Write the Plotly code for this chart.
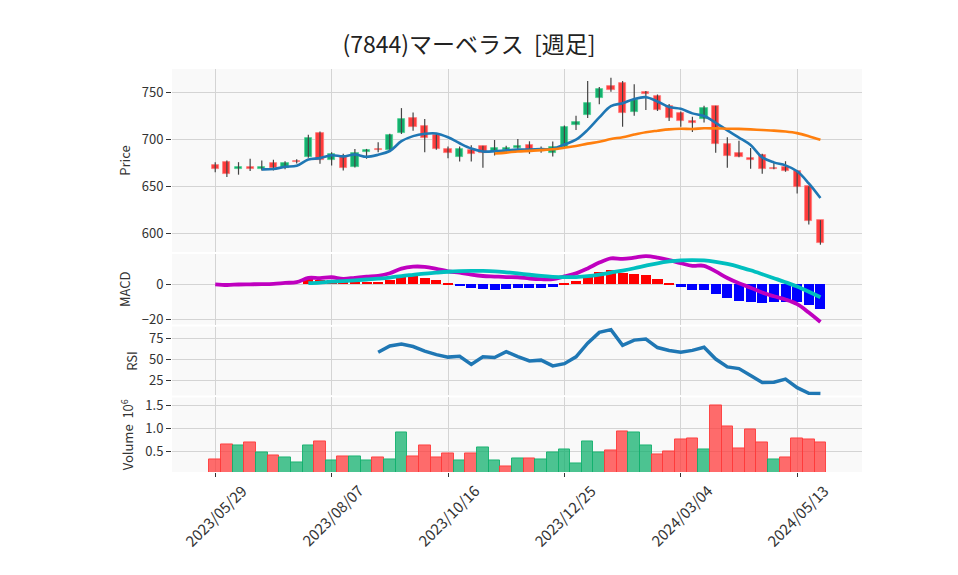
import pandas as pd
import plotly.graph_objects as go
from plotly.subplots import make_subplots

# ---------------------------------------------------------------------------
# weekly data: prices in yen, volume in millions of shares
# ---------------------------------------------------------------------------
dates = pd.date_range("2023-05-29", periods=53, freq="7D")
opens = [671.9, 675.4, 667.7, 669.8, 667.7, 675.0, 669.1, 676.9, 681.4, 706.8,
         677.2, 681.4, 670.8, 686.1, 689.9, 688.5, 706.0, 722.6, 713.8, 704.3,
         689.5, 680.7, 688.8, 692.7, 687.0, 688.0, 690.6, 693.7, 689.0, 684.9,
         692.0, 714.9, 725.5, 744.1, 756.5, 759.3, 729.3, 750.1, 745.9, 735.0,
         727.2, 719.5, 720.8, 735.3, 694.8, 685.6, 679.6, 683.2, 669.4, 670.8,
         665.5, 649.7, 613.7]
highs = [675.4, 677.2, 675.4, 679.0, 677.2, 678.0, 676.5, 678.5, 704.6, 708.1,
         686.0, 684.3, 689.5, 689.5, 696.5, 705.6, 732.9, 728.2, 721.2, 705.6,
         692.0, 692.0, 693.3, 693.0, 699.0, 693.0, 700.0, 697.6, 692.0, 697.3,
         714.5, 724.7, 761.7, 755.4, 765.2, 761.7, 758.2, 751.0, 747.4, 737.2,
         729.3, 723.7, 735.3, 735.3, 701.8, 698.3, 690.6, 684.3, 675.4, 676.4,
         666.6, 649.7, 613.7]
lows = [664.8, 659.5, 662.1, 665.9, 666.6, 666.6, 668.0, 674.0, 680.0, 673.7,
        671.9, 666.6, 669.8, 679.0, 685.9, 687.0, 705.4, 708.9, 686.0, 688.5,
        679.6, 676.2, 676.2, 669.5, 682.5, 685.0, 687.7, 684.3, 685.5, 681.4,
        691.2, 709.6, 722.3, 737.1, 750.4, 713.1, 724.7, 730.8, 729.8, 719.2,
        713.1, 707.5, 717.7, 685.3, 669.5, 680.7, 668.4, 663.1, 667.9, 665.2,
        642.0, 609.2, 587.6]
closes = [667.7, 662.7, 670.8, 667.7, 669.8, 669.5, 674.8, 675.8, 701.2, 677.2,
          684.3, 669.5, 685.6, 688.8, 688.1, 704.6, 721.6, 712.4, 701.2, 689.5,
          684.9, 689.5, 684.5, 685.5, 690.6, 690.0, 692.7, 685.9, 687.2, 691.9,
          713.1, 718.4, 738.5, 753.0, 752.2, 728.2, 741.3, 747.7, 730.8, 722.1,
          718.7, 717.3, 733.5, 694.8, 681.7, 680.7, 677.5, 667.7, 668.3, 665.9,
          649.0, 613.0, 589.8]
volumes = [0.326, 0.652, 0.63, 0.69, 0.478, 0.413, 0.37, 0.26, 0.63, 0.717,
           0.30, 0.39, 0.39, 0.30, 0.37, 0.33, 0.913, 0.39, 0.63, 0.37,
           0.457, 0.30, 0.457, 0.587, 0.30, 0.17, 0.35, 0.35, 0.33, 0.48,
           0.54, 0.24, 0.72, 0.48, 0.52, 0.935, 0.913, 0.63, 0.435, 0.50,
           0.76, 0.78, 0.543, 1.5, 1.04, 0.565, 0.978, 0.696, 0.326, 0.37,
           0.78, 0.76, 0.696]

# indicator lines (None where the chart draws nothing)
ma5 = [None] * 4 + [
    667.7, 668.1, 670.5, 671.5, 678.2, 679.7, 682.7, 681.6, 683.6, 681.1,
    683.3, 687.3, 697.7, 703.1, 705.6, 705.9, 701.9, 695.5, 689.9, 686.8,
    687.0, 688.0, 688.7, 688.9, 689.3, 689.5, 694.2, 699.3, 709.8, 723.0,
    735.0, 738.1, 742.6, 744.5, 740.0, 734.0, 732.1, 727.3, 724.5, 717.3,
    709.2, 701.6, 693.6, 680.5, 675.2, 672.0, 665.7, 652.8, 637.2]
ma25 = [None] * 24 + [
    684.7, 685.6, 686.8, 687.4, 688.2, 689.1, 690.8, 692.6, 695.1, 697.1,
    700.1, 701.9, 704.8, 707.3, 708.9, 710.3, 710.9, 710.7, 711.5, 711.3,
    711.0, 710.8, 710.3, 709.6, 709.0, 708.0, 706.3, 703.1, 699.3]
macd = [0.0, -0.4, -0.1, 0.0, 0.1, 0.3, 0.8, 1.2, 3.6, 3.5,
        4.0, 3.1, 3.7, 4.3, 4.8, 6.3, 8.9, 10.0, 9.9, 8.8,
        7.4, 6.6, 5.5, 4.7, 4.4, 4.1, 4.0, 3.3, 2.9, 2.9,
        4.5, 6.2, 9.0, 12.3, 14.7, 14.4, 15.1, 16.0, 15.2, 13.7,
        12.0, 10.5, 10.5, 7.3, 3.6, 0.6, -1.9, -4.7, -6.8, -8.6,
        -11.2, -16.0, -21.4]
signal = [None] * 8 + [
    0.61, 1.00, 1.49, 1.84, 2.26, 2.72, 3.22, 3.83, 4.69, 5.40,
    6.11, 6.64, 7.12, 7.44, 7.58, 7.57, 7.36, 6.82, 6.16, 5.42,
    4.77, 4.27, 4.03, 4.11, 4.59, 5.47, 6.64, 7.80, 9.11, 10.57,
    11.93, 12.96, 13.60, 13.77, 13.57, 12.74, 11.54, 9.93, 7.94, 5.73,
    3.46, 1.17, -1.24, -4.19, -7.38]
hist = [None] * 8 + [
    3.0, 2.5, 2.5, 1.3, 1.4, 1.6, 1.6, 2.5, 4.2, 4.6,
    3.8, 2.2, 0.3, -0.8, -2.1, -2.9, -3.0, -2.7, -2.2, -2.1,
    -1.9, -1.4, 0.5, 2.1, 4.4, 6.8, 8.1, 6.6, 6.0, 5.4,
    3.3, 0.7, -1.6, -3.3, -3.1, -5.4, -7.9, -9.3, -9.8, -10.4,
    -10.3, -9.8, -10.0, -11.8, -14.0]
rsi = [None] * 14 + [
    58.8, 66.4, 68.6, 65.7, 60.3, 56.1, 53.1, 54.1, 44.3, 53.4,
    52.6, 59.6, 53.8, 48.5, 49.5, 42.6, 45.3, 53.5, 69.7, 82.6,
    85.9, 67.1, 73.4, 74.6, 64.5, 61.0, 58.8, 61.1, 64.8, 50.8,
    41.4, 39.4, 31.1, 22.8, 23.2, 26.9, 16.7, 10.0, 9.6]

tick_dates = ["2023-05-29", "2023-08-07", "2023-10-16", "2023-12-25",
              "2024-03-04", "2024-05-13"]
tick_text = ["2023/05/29", "2023/08/07", "2023/10/16", "2023/12/25",
             "2024/03/04", "2024/05/13"]

WEEK_MS = 7 * 86400000
GREEN = "#12b06e"
RED = "#ff3b3b"
FONT = "Noto Sans CJK JP, Noto Sans, sans-serif"

fig = make_subplots(rows=4, cols=1, shared_xaxes=True, vertical_spacing=0.004)

# --- price panel: wicks as line segments, bodies as floating bars ---
up = [cl >= op for op, cl in zip(opens, closes)]
wx, wy = [], []
for dt, lo, hi in zip(dates, lows, highs):
    wx += [dt, dt, None]
    wy += [lo, hi, None]
fig.add_trace(go.Scatter(x=wx, y=wy, mode="lines", line=dict(color="#444", width=1.2),
                         hoverinfo="skip"), row=1, col=1)
fig.add_trace(go.Bar(x=dates, y=[abs(cl - op) for op, cl in zip(opens, closes)],
                     base=[min(op, cl) for op, cl in zip(opens, closes)],
                     width=0.62 * WEEK_MS,
                     marker=dict(color=[GREEN if u else RED for u in up],
                                 line=dict(color=["#4ad08f" if u else "#ff7a7a" for u in up],
                                           width=0.8))),
              row=1, col=1)
fig.add_trace(go.Scatter(x=dates, y=ma5, mode="lines",
                         line=dict(color="#1f77b4", width=2.6, shape="spline")), row=1, col=1)
fig.add_trace(go.Scatter(x=dates, y=ma25, mode="lines",
                         line=dict(color="#ff7f0e", width=2.6, shape="spline")), row=1, col=1)

# --- MACD panel ---
fig.add_trace(go.Bar(x=dates, y=hist, width=0.86 * WEEK_MS,
                     marker=dict(color=["#0000ff" if (h is not None and h < 0) else "#ff0000"
                                        for h in hist], line_width=0)), row=2, col=1)
fig.add_trace(go.Scatter(x=dates, y=macd, mode="lines",
                         line=dict(color="#bf00bf", width=3.8, shape="spline")), row=2, col=1)
fig.add_trace(go.Scatter(x=dates, y=signal, mode="lines",
                         line=dict(color="#00bfbf", width=3.8, shape="spline")), row=2, col=1)

# --- RSI panel ---
fig.add_trace(go.Scatter(x=dates, y=rsi, mode="lines",
                         line=dict(color="#1f77b4", width=3.5)), row=3, col=1)

# --- volume panel: coloured by week-over-week close ---
vol_up = [up[0]] + [closes[i] > closes[i - 1] for i in range(1, len(closes))]
fig.add_trace(go.Bar(x=dates, y=volumes, width=WEEK_MS,
                     marker=dict(color=["rgba(18,176,110,0.75)" if u else "rgba(255,59,59,0.75)"
                                        for u in vol_up],
                                 line=dict(color=["rgba(18,176,110,0.9)" if u else "rgba(255,59,59,0.9)"
                                                  for u in vol_up], width=1))),
              row=4, col=1)

# page body adds an 8px offset, so the figure is 8px smaller than the window
fig.update_layout(
    width=950, height=567,
    margin=dict(l=164, r=96, t=61, b=103, autoexpand=False),
    title=dict(text="(7844)マーベラス\u00a0\u00a0[週足]", x=0.4853, xanchor="center",
               y=0.935, yanchor="middle", font=dict(size=23, color="#222")),
    font=dict(family=FONT, size=13, color="#333"),
    paper_bgcolor="white", plot_bgcolor="#f9f9f9",
    bargap=0, showlegend=False,
)
doms = [[0.546, 1.0], [0.366, 0.541], [0.19, 0.361], [0.0, 0.185]]
for r, dm in enumerate(doms, start=1):
    fig.update_yaxes(domain=dm, row=r, col=1, gridcolor="#d4d4d4", zeroline=False,
                     ticks="outside", ticklen=5, tickcolor="#333", showline=False,
                     title_font=dict(size=13), title_standoff=8)
    fig.update_xaxes(row=r, col=1, gridcolor="#d4d4d4", tickvals=tick_dates,
                     range=["2023-05-03", "2024-06-21"], showline=False, zeroline=False)
# date labels centred under their ticks, rotated 45 degrees
fig.update_xaxes(row=4, col=1, showticklabels=False, ticks="outside", ticklen=4,
                 tickcolor="#333")
for td, tt in zip(tick_dates, tick_text):
    fig.add_annotation(x=td, xref="x4", y=-0.107, yref="paper", text=tt, textangle=-45,
                       showarrow=False, xanchor="center", yanchor="middle",
                       font=dict(size=15, color="#333"))
fig.update_yaxes(row=1, col=1, range=[579.9, 774.5], tickvals=[600, 650, 700, 750],
                 title_text="Price")
fig.update_yaxes(row=2, col=1, range=[-22.8, 17.2], tickvals=[-20, 0],
                 ticktext=["\u221220", "0"], title_text="MACD")
fig.update_yaxes(row=3, col=1, range=[7.4, 89.6], tickvals=[25, 50, 75], title_text="RSI")
fig.update_yaxes(row=4, col=1, range=[0.05, 1.67], tickvals=[0.5, 1.0, 1.5],
                 tickformat=".1f", title_text="Volume  10<sup>6</sup>")

fig.write_html("out.html")
